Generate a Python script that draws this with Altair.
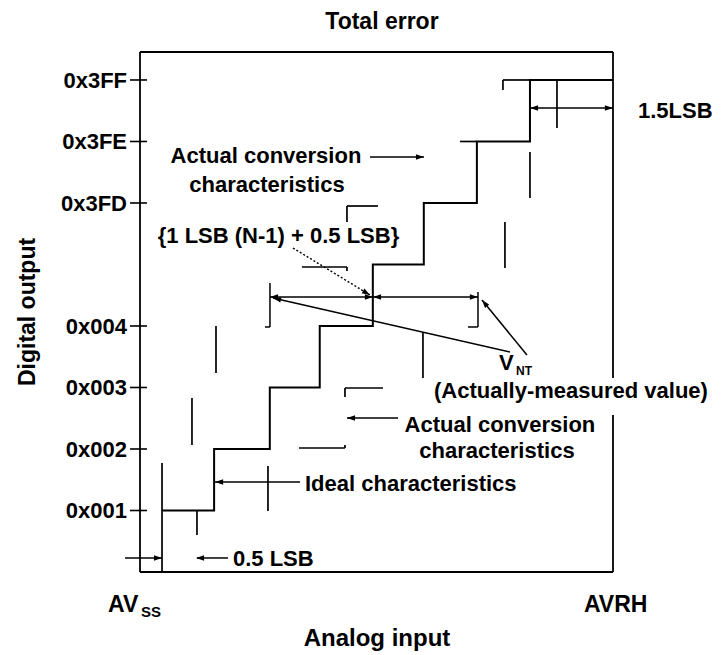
import altair as alt
import pandas as pd

# Diagram units: x = analog input in LSB (0 = AVSS at frame left, 9 = AVRH at frame right)
#                y = output code step (levels 1..8 drawn; axis break between 0x004 and 0x3FD)
X_MAX = 9.0
Y_MAX = 8.455

# Actual conversion characteristic (staircase): transition inputs and codes
step_x = [0.42, 1.41, 2.47, 3.42, 4.43, 5.40, 6.41, 7.42, 9.0]
step_code = [1, 2, 3, 4, 5, 6, 7, 8, 8]

# Y axis ticks and labels
tick_levels = [1, 2, 3, 4, 6, 7, 8]
tick_labels = ["0x001", "0x002", "0x003", "0x004", "0x3FD", "0x3FE", "0x3FF"]

# Ideal characteristic marks (short segments)
ideal_x1 = [0.419, 1.084, 0.989, 1.446, 2.435, 3.900, 3.900, 3.025, 3.900, 3.082, 3.938,
            3.938, 3.938, 5.384, 6.944, 7.420, 6.088, 6.906, 6.906, 7.934]
ideal_y1 = [0.000, 1.000, 2.830, 4.000, 1.724, 2.992, 2.992, 2.016, 2.016, 4.959, 4.959,
            5.951, 5.951, 3.886, 5.691, 6.829, 7.000, 8.000, 8.000, 8.000]
ideal_x2 = [0.419, 1.084, 0.989, 1.446, 2.435, 4.623, 3.900, 3.900, 3.900, 3.938, 3.938,
            3.938, 4.528, 5.384, 6.944, 7.420, 6.412, 7.420, 6.906, 7.934]
ideal_y2 = [1.772, 0.600, 2.065, 3.236, 0.992, 2.992, 2.846, 2.016, 2.065, 4.959, 4.894,
            5.691, 5.951, 3.154, 4.943, 6.081, 7.000, 8.000, 7.837, 7.220]

# Dimension brackets and arrow shafts
dim_x1 = [2.473, 2.378, 6.431, 6.241, 2.473, 4.433, 7.420, -0.285, 1.084, 4.376, 3.938, 1.427, 2.530, 6.507]
dim_y1 = [4.699, 3.984, 4.553, 3.984, 4.472, 4.472, 7.545, 0.228, 0.228, 6.748, 2.504, 1.463, 4.455, 4.423]
dim_x2 = [2.473, 2.473, 6.431, 6.431, 4.433, 6.431, 9.000, 0.419, 1.674, 5.403, 4.909, 3.044, 7.040, 7.363]
dim_y2 = [3.984, 3.984, 3.984, 3.984, 4.472, 4.472, 7.545, 0.228, 0.228, 6.748, 2.504, 1.463, 3.577, 3.528]

# Dotted leader for {1 LSB (N-1) + 0.5 LSB}
dot_x1, dot_y1, dot_x2, dot_y2 = [2.911], [5.268], [4.376], [4.504]

# Arrowheads (position and direction in degrees, clockwise from up)
head_x = [2.559, 4.347, 4.519, 6.345, 7.506, 8.914, 0.333, 1.151, 5.318, 4.024, 1.513, 4.303, 2.614, 6.561]
head_y = [4.472, 4.472, 4.472, 4.472, 7.545, 7.545, 0.228, 0.228, 6.748, 2.504, 1.463, 4.541, 4.439, 4.366]
head_dir = [270, 90, 270, 90, 270, 90, 90, 270, 90, 270, 270, 121.4, 282.8, 320.7]

# Frame (right side broken for the label)
frame_x1 = [0, 0, 0, 9.0, 9.0]
frame_y1 = [0, Y_MAX, 0, Y_MAX, 2.553]
frame_x2 = [0, 9.0, 9.0, 9.0, 9.0]
frame_y2 = [Y_MAX, Y_MAX, 0, 3.154, 0]

# Text annotations
center_texts = ["Actual conversion", "characteristics", "{1 LSB (N-1) + 0.5 LSB}",
                "(Actually-measured value)", "Actual conversion", "characteristics"]
center_x = [2.397, 2.416, 2.635, 8.200, 6.849, 6.792]
center_y = [6.650, 6.179, 5.350, 2.829, 2.276, 1.854]

left_texts = ["Ideal characteristics", "0.5 LSB", "1.5LSB", "V"]
left_x = [3.139, 1.769, 9.475, 6.830]
left_y = [1.317, 0.098, 7.382, 3.285]

sub_texts = ["NT", "SS"]
sub_x = [7.154, 0.019]
sub_y = [3.200, -0.732]

end_texts = ["AV", "AVRH"]
end_x = [-0.609, 8.447]
end_y = [-0.650, -0.650]

title_text = "Total error"
x_title = "Analog input"
y_title = "Digital output"

FONT = "Liberation Sans, Arial, sans-serif"

xs = alt.Scale(domain=[0, X_MAX], nice=False, zero=False)
ys = alt.Scale(domain=[0, Y_MAX], nice=False, zero=False)


def X(f):
    return alt.X(f, type="quantitative", scale=xs, axis=None)


def Y(f):
    return alt.Y(f, type="quantitative", scale=ys, axis=None)


def seg_layer(x1, y1, x2, y2, **kw):
    df = pd.DataFrame({"x": x1, "y": y1, "x2": x2, "y2": y2})
    return alt.Chart(df).mark_rule(color="black", **kw).encode(
        x=X("x"), y=Y("y"), x2="x2:Q", y2="y2:Q")


def text_layer(texts, xv, yv, **kw):
    df = pd.DataFrame({"t": texts, "x": xv, "y": yv})
    return alt.Chart(df).mark_text(font=FONT, fontWeight="bold", color="black", **kw).encode(
        x=X("x"), y=Y("y"), text="t:N")


frame = seg_layer(frame_x1, frame_y1, frame_x2, frame_y2, strokeWidth=1.8)

tick_df = pd.DataFrame({"lvl": tick_levels, "lab": tick_labels})
ticks = alt.Chart(tick_df).mark_rule(color="black", strokeWidth=1.6).encode(
    x=alt.datum(-0.19, type="quantitative", scale=xs, axis=None),
    x2=alt.datum(0.133),
    y=Y("lvl"),
)
tick_text = alt.Chart(tick_df).mark_text(
    font=FONT, fontWeight="bold", fontSize=22, align="right", baseline="middle", dy=1, color="black"
).encode(
    x=alt.datum(-0.247, type="quantitative", scale=xs, axis=None),
    y=Y("lvl"),
    text="lab:N",
)

stair_df = pd.DataFrame({"x": step_x, "code": step_code})
stair = alt.Chart(stair_df).mark_line(
    interpolate="step-after", color="black", strokeWidth=2
).encode(x=X("x"), y=Y("code"), order="x:Q")

ideal = seg_layer(ideal_x1, ideal_y1, ideal_x2, ideal_y2, strokeWidth=1.7)
dims = seg_layer(dim_x1, dim_y1, dim_x2, dim_y2, strokeWidth=1.5)
dotted = seg_layer(dot_x1, dot_y1, dot_x2, dot_y2, strokeWidth=1.4, strokeDash=[2, 2])

head_df = pd.DataFrame({"x": head_x, "y": head_y, "dir": head_dir})
heads = alt.Chart(head_df).mark_point(
    shape="M0,-1L0.6,0.8L-0.6,0.8Z", filled=True, color="black", size=80, opacity=1
).encode(x=X("x"), y=Y("y"), angle=alt.Angle("dir:Q", scale=None))

title = text_layer([title_text], [4.604], [8.83], fontSize=23, align="center", baseline="alphabetic")
ytitle = text_layer([y_title], [-2.131], [4.228], fontSize=23, align="center", baseline="middle", angle=270)
xtitle = text_layer([x_title], [4.509], [-1.203], fontSize=24, align="center", baseline="alphabetic")
ctexts = text_layer(center_texts, center_x, center_y, fontSize=22, align="center", baseline="alphabetic")
ltexts = text_layer(left_texts, left_x, left_y, fontSize=22, align="left", baseline="alphabetic")
ntext = text_layer(sub_texts[:1], sub_x[:1], sub_y[:1], fontSize=12, align="left", baseline="alphabetic")
stext = text_layer(sub_texts[1:], sub_x[1:], sub_y[1:], fontSize=15, align="left", baseline="alphabetic")
etexts = text_layer(end_texts, end_x, end_y, fontSize=23, align="left", baseline="alphabetic")

chart = alt.layer(
    frame, ticks, stair, ideal, dims, dotted, heads,
    tick_text, title, ytitle, xtitle, ctexts, ltexts, ntext, stext, etexts,
).properties(
    width=473,
    height=520,
    autosize=alt.AutoSizeParams(type="none"),
    padding={"left": 132, "top": 44, "right": 104, "bottom": 83},
    background="white",
).configure_view(stroke=None)

chart.save("out.html", embed_options={"renderer": "svg", "actions": False})
